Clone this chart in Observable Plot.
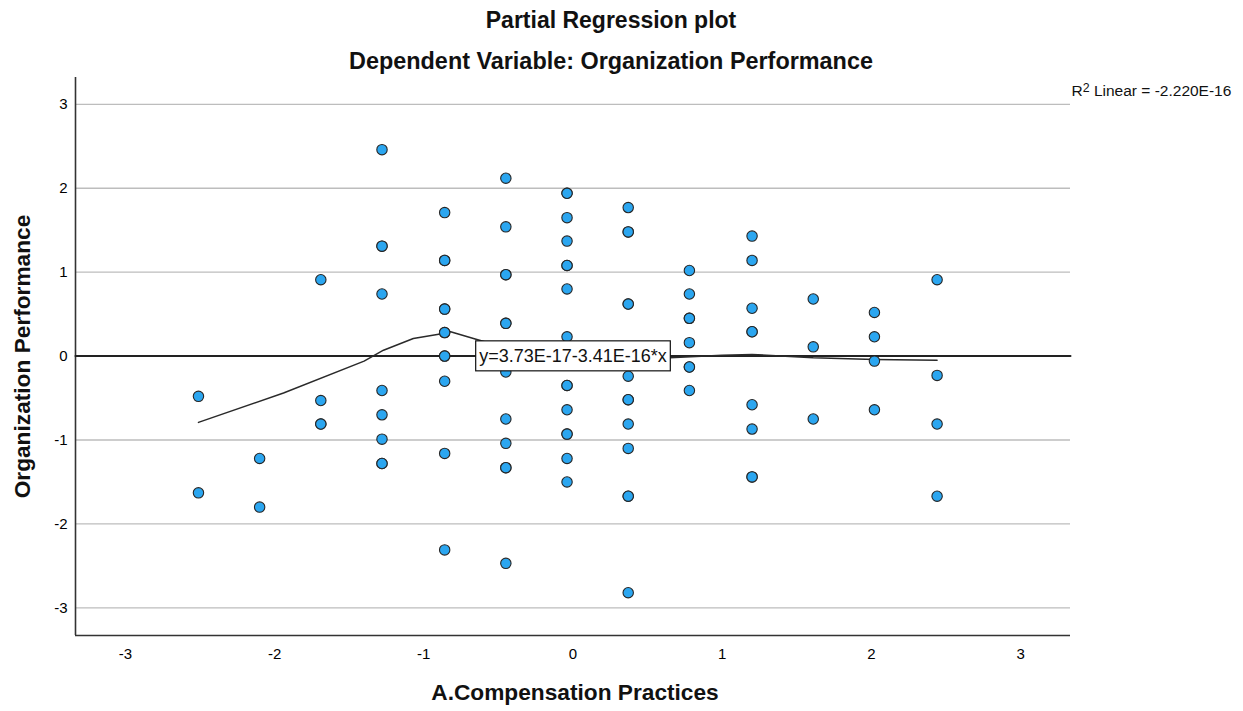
<!DOCTYPE html>
<html>
<head>
<meta charset="utf-8">
<script src="https://cdn.jsdelivr.net/npm/d3@7"></script>
<script src="https://cdn.jsdelivr.net/npm/@observablehq/plot@0.6"></script>
<style>
  body { margin: 0; background: #fff; }
  #chart svg { display: block; }
</style>
</head>
<body>
<div id="chart"></div>
<script>
// ---- Data ----
const titleText = "Partial Regression plot";
const subtitleText = "Dependent Variable: Organization Performance";
const xTitle = "A.Compensation Practices";
const yTitle = "Organization Performance";
const r2Text = "R2 Linear = -2.220E-16";
const eqText = "y=3.73E-17-3.41E-16*x";

const xTicks = [-3, -2, -1, 0, 1, 2, 3];
const yTicks = [-3, -2, -1, 0, 1, 2, 3];
const xDomain = [-3.334, 3.334];
const yDomain = [-3.33, 3.32];

// x positions of the point columns
const columnX = [-2.51, -2.10, -1.69, -1.28, -0.86, -0.45, -0.04, 0.37, 0.78, 1.20, 1.61, 2.02, 2.44];
// y values in each column (repeats = overlapping points)
const columnY = [
  [-0.48, -1.63],
  [-1.22, -1.80],
  [0.91, -0.53, -0.81, -0.81],
  [2.46, 1.31, 1.31, 0.74, -0.41, -0.70, -0.99, -1.28, -1.28],
  [1.71, 1.14, 1.14, 0.56, 0.56, 0.28, 0.28, 0.0, 0.0, -0.30, -1.16, -2.31],
  [2.12, 1.54, 0.97, 0.97, 0.39, 0.39, -0.19, -0.75, -1.04, -1.33, -1.33, -2.47],
  [1.94, 1.94, 1.65, 1.37, 1.08, 1.08, 0.80, 0.23, -0.35, -0.35, -0.64, -0.93, -0.93, -1.22, -1.50],
  [1.77, 1.48, 1.48, 0.62, 0.62, -0.24, -0.52, -0.52, -0.81, -1.10, -1.67, -1.67, -2.82],
  [1.02, 0.74, 0.45, 0.45, 0.16, -0.13, -0.13, -0.41],
  [1.43, 1.14, 0.57, 0.29, 0.29, -0.58, -0.87, -1.44, -1.44],
  [0.68, 0.11, -0.75],
  [0.52, 0.23, -0.06, -0.64],
  [0.91, -0.23, -0.81, -1.67]
];

// Loess-like smoother
const smoothX = [-2.51, -1.94, -1.40, -1.27, -1.07, -0.90, -0.86, -0.65, -0.45, -0.04, 0.37, 0.65, 1.00, 1.20, 1.61, 2.02, 2.44];
const smoothY = [-0.79, -0.44, -0.06, 0.07, 0.21, 0.26, 0.31, 0.20, 0.10, 0.00, -0.02, -0.02, 0.01, 0.02, -0.02, -0.04, -0.05];

// Linear fit
const fitIntercept = 3.73e-17;
const fitSlope = -3.41e-16;
const eqX = 0, eqY = 0;

// ---- Build tables ----
const points = columnX.flatMap((x, i) => columnY[i].map(y => ({x, y})));
const smooth = smoothX.map((x, i) => ({x, y: smoothY[i]}));
const fit = xDomain.map(x => ({x, y: fitIntercept + fitSlope * x}));

const font = "'Liberation Sans', Arial, sans-serif";

const chart = Plot.plot({
  width: 1243,
  height: 711,
  marginLeft: 75,
  marginRight: 173,
  marginTop: 77,
  marginBottom: 76,
  style: {fontFamily: font, background: "#fff", overflow: "visible", color: "#000"},
  x: {domain: xDomain},
  y: {domain: yDomain},
  marks: [
    Plot.gridY(yTicks, {stroke: "#bdbdbd", strokeOpacity: 1, strokeWidth: 1.3}),
    Plot.axisX(xTicks, {tickSize: 0, tickPadding: 13, fontSize: 15, label: null, tickFormat: d => String(d)}),
    Plot.axisY(yTicks, {tickSize: 0, tickPadding: 8, fontSize: 15, label: null, tickFormat: d => String(d)}),
    Plot.ruleX([xDomain[0]], {stroke: "#333", strokeWidth: 1.6}),
    Plot.ruleY([yDomain[0]], {stroke: "#333", strokeWidth: 1.6}),
    Plot.line(fit, {x: "x", y: "y", stroke: "#222", strokeWidth: 2}),
    Plot.line(smooth, {x: "x", y: "y", stroke: "#2a2a2a", strokeWidth: 1.5, curve: "linear"}),
    Plot.dot(points, {x: "x", y: "y", r: 5.2, fill: "#2ba6f0", stroke: "#262626", strokeWidth: 1.1}),
    Plot.text([eqText], {x: () => eqX, y: () => eqY, text: d => d, fontSize: 18, fill: "#111"}),
    Plot.text([r2Text], {frameAnchor: "top-right", textAnchor: "start", lineAnchor: "middle", dx: 1, dy: 14, text: d => d, fontSize: 15.5, fill: "#111"}),
    Plot.text([titleText], {frameAnchor: "top", lineAnchor: "middle", dx: 38, dy: -57, text: d => d, fontSize: 23, fontWeight: "bold", fill: "#111"}),
    Plot.text([subtitleText], {frameAnchor: "top", lineAnchor: "middle", dx: 38, dy: -16, text: d => d, fontSize: 23.4, fontWeight: "bold", fill: "#111"}),
    Plot.text([xTitle], {frameAnchor: "bottom", lineAnchor: "middle", dx: 2, dy: 57, text: d => d, fontSize: 22.7, fontWeight: "bold", fill: "#111"}),
    Plot.text([yTitle], {frameAnchor: "left", textAnchor: "middle", lineAnchor: "middle", rotate: -90, dx: -53, text: d => d, fontSize: 22.7, fontWeight: "bold", fill: "#111"})
  ]
});

document.getElementById("chart").appendChild(chart);

const svg = d3.select(chart);
svg.selectAll("text").each(function() {
  // White box with border behind the equation label
  if (this.textContent === eqText) {
    const bb = this.getBBox();
    const padX = 3.5, padY = 5;
    d3.select(this.parentNode).insert("rect", () => this)
      .attr("x", bb.x - padX)
      .attr("y", bb.y - padY)
      .attr("width", bb.width + 2 * padX)
      .attr("height", bb.height + 2 * padY)
      .attr("transform", this.getAttribute("transform"))
      .attr("fill", "#fff")
      .attr("stroke", "#111")
      .attr("stroke-width", 1.2);
  }
  // Superscript "2" in the R² label
  if (this.textContent === r2Text) {
    const t = d3.select(this);
    t.text(null);
    t.append("tspan").text("R");
    t.append("tspan").attr("dy", "-0.4em").attr("font-size", "0.8em").text("2");
    t.append("tspan").attr("dy", "0.32em").text(r2Text.slice(2));
  }
});
</script>
</body>
</html>
